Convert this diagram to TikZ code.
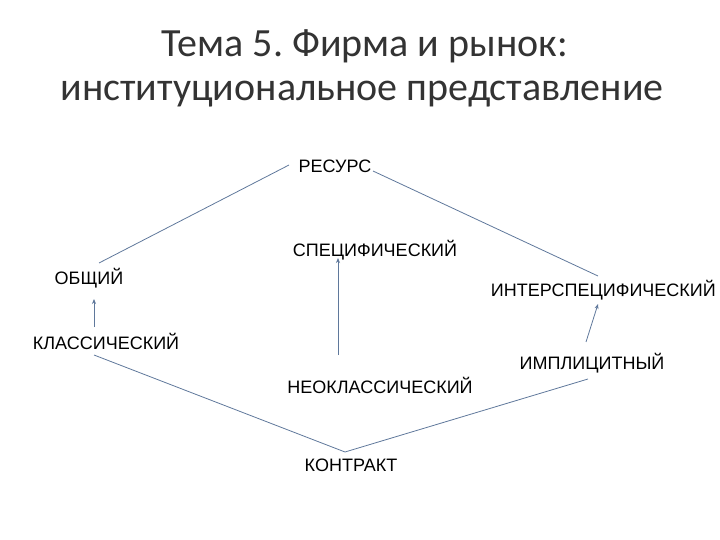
\documentclass[tikz,border=0pt]{standalone}
\usepackage{fontspec}
\setmainfont{Liberation Sans}
\newfontfamily\titlefont{Carlito}
\usetikzlibrary{arrows.meta}
\frenchspacing

\definecolor{linkcol}{RGB}{95,120,155}
\tikzset{
	term/.style={font=\fontsize{18}{21}\selectfont, inner sep=1pt},
	head/.style={font=\titlefont\fontsize{40}{46}\selectfont, text=black!80},
	link/.style={draw=linkcol, line width=0.8pt},
	arr/.style={link, -{Stealth[length=5pt,width=4pt]}}
}

\begin{document}
\begin{tikzpicture}[x=1pt,y=-1pt]
			\useasboundingbox (0,0) rectangle (720,540);
			\node[head] (title1) at (365,46) {Тема 5. Фирма и рынок:};
			\node[head] (title2) at (362,94) {институциональное представление};

			\node[term] (resurs) at (335,166) {РЕСУРС};
			\node[term] (spec) at (375,250) {СПЕЦИФИЧЕСКИЙ};
			\node[term] (obsh) at (89,278) {ОБЩИЙ};
			\node[term, anchor=east] (inter) at (717,290) {ИНТЕРСПЕЦИФИЧЕСКИЙ};
			\node[term] (klass) at (106,341) {КЛАССИЧЕСКИЙ};
			\node[term] (impl) at (592,363) {ИМПЛИЦИТНЫЙ};
			\node[term] (neokl) at (380,385) {НЕОКЛАССИЧЕСКИЙ};
			\node[term] (kontr) at (351,465) {КОНТРАКТ};

			\draw[link] ([xshift=-46pt,yshift=1pt]resurs.center) -- ([xshift=10pt,yshift=15pt]obsh.center);
			\draw[link] ([xshift=38pt,yshift=-5pt]resurs.center) -- ([xshift=-119pt,yshift=14pt]inter.east);
			\draw[link] ([xshift=-12pt,yshift=-14pt]klass.center) -- ([xshift=-6pt,yshift=13pt]kontr.center);
			\draw[link] ([xshift=-6pt,yshift=13pt]kontr.center) -- ([xshift=-4pt,yshift=-16pt]impl.center);
			\draw[arr] ([xshift=-12pt,yshift=14pt]klass.center) -- ([xshift=5pt,yshift=-21pt]obsh.center);
			\draw[arr] ([xshift=-42pt,yshift=30pt]neokl.center) -- ([xshift=-37pt,yshift=-8pt]spec.center);
			\draw[arr] ([xshift=-6pt,yshift=21pt]impl.center) -- ([xshift=-119pt,yshift=-14pt]inter.east);
\end{tikzpicture}
\end{document}
